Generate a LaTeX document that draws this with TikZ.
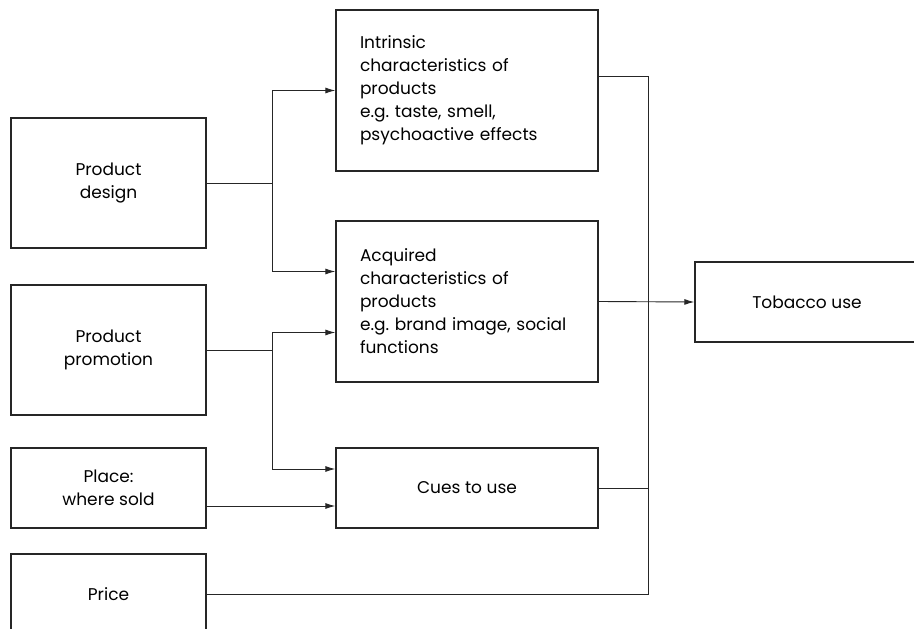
\documentclass[tikz,border=0pt]{standalone}
\usepackage{fontspec}
\setmainfont{Poppins}
\usetikzlibrary{arrows.meta}
\tikzset{
	block/.style={draw=black!85, line width=1.4pt, minimum width=195pt, minimum height=80pt, align=center, inner sep=0pt},
	factor/.style={block, minimum width=262pt, minimum height=161pt, text width=214pt, inner xsep=24pt, align=left},
	link/.style={line width=0.9pt, color=black!85},
	feed/.style={link, -{Latex[length=10pt, width=6pt]}}
}

\begin{document}
\frenchspacing
\begin{tikzpicture}[x=1pt, y=-1pt, font=\fontsize{17}{23}\selectfont]
		%%%%% START %%%%%
		
		\clip (0, 0) rectangle (914, 629);
		
		\node[block, minimum height=130pt] (design) at (108.5, 183) {Product\\design};
		\node[block, minimum height=130pt] (promo) at (108.5, 350) {Product\\promotion};
		\node[block] (place) at (108.5, 488) {Place:\\where sold};
		\node[block] (price) at (108.5, 594) {Price};
		
		\node[factor] (intrinsic) at (467, 90.5) {Intrinsic\\characteristics of\\products\\e.g. taste, smell,\\psychoactive effects};
		\node[factor] (acquired) at (467, 301.5) {Acquired\\characteristics of\\products\\e.g. brand image, social\\functions};
		\node[block, minimum width=262pt] (cues) at (467, 488) {Cues to use};
		
		\node[block, minimum width=224pt] (tobacco) at (807, 302) {Tobacco use};
		
		\coordinate (dsplit) at (272, 183);
		\coordinate (psplit) at (272, 350);
		\coordinate (rail) at (648, 0);
		
		\draw[link] (design.east) -- (dsplit);
		\draw[feed] (dsplit) |- (intrinsic.west);
		\draw[feed] (dsplit) |- ([yshift=30pt]acquired.west);
		
		\draw[link] (promo.east) -- (psplit);
		\draw[feed] (psplit) |- ([yshift=-31pt]acquired.west);
		\draw[feed] (psplit) |- ([yshift=19pt]cues.west);
		
		\draw[feed] ([yshift=-18pt]place.east) -- ([yshift=-18pt]cues.west);
		
		\draw[link] ([yshift=14.5pt]intrinsic.east) -| (rail |- price.east) -- (price.east);
		\draw[link] (cues.east) -- (cues.east -| rail);
		
		\draw[feed] (acquired.east) -- (tobacco.west);
		
		%%%%% END %%%%%
	\end{tikzpicture}
\end{document}
